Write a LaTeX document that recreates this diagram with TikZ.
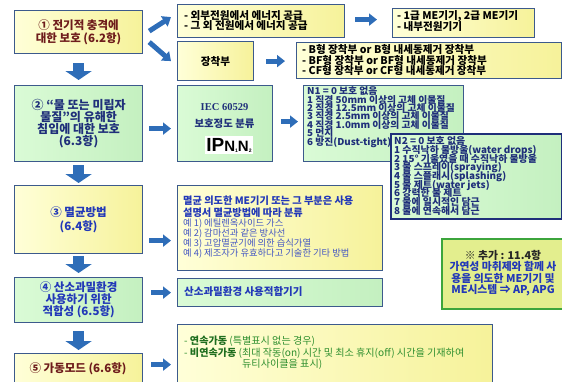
\documentclass[tikz,border=0pt]{standalone}
\usepackage{fontspec}
\setmainfont{Noto Sans CJK KR}
\newfontfamily\arialf{Liberation Sans}
\newfontfamily\timesf{Liberation Serif}
\usetikzlibrary{arrows.meta,calc}
\definecolor{bord}{HTML}{3C5A8C}
\definecolor{yla}{HTML}{FFFFD8}
\definecolor{ylb}{HTML}{F6F29A}
\definecolor{gra}{HTML}{DAFBD6}
\definecolor{grb}{HTML}{C4F0C0}
\definecolor{arr}{HTML}{2E6DB8}
\definecolor{redt}{HTML}{6E1C1C}
\definecolor{navy}{HTML}{1F2F7A}
\definecolor{bluet}{HTML}{2238B8}
\definecolor{greent}{HTML}{2F8F2F}
\definecolor{dgreen}{HTML}{1E6E1E}
\definecolor{addf}{HTML}{E3EE8E}
\definecolor{addb}{HTML}{3CA53C}
\begin{document}
\lineskiplimit=-100pt
\lineskip=0pt
\begin{tikzpicture}[x=1pt,y=-1pt,
  ybox/.style={draw=bord, line width=1.2pt, left color=yla, right color=ylb, inner sep=0pt, anchor=north west},
  gbox/.style={draw=bord, line width=1.2pt, left color=gra, right color=grb, inner sep=0pt, anchor=north west},
  txt/.style={inner sep=0pt, align=left},
  bigarr/.style={draw=arr, line width=11pt, -{Triangle[width=26pt,length=9pt]}},
  sarr/.style={draw=arr, line width=5pt, -{Triangle[width=12pt,length=8pt]}},
  lbig/.style={font=\fontsize{11.5}{13.5}\selectfont\bfseries, align=center, inner sep=0pt},
  mid/.style={font=\fontsize{10.6}{10.5}\selectfont\bfseries},
  nsm/.style={font=\fontsize{9.4}{8.4}\selectfont\bfseries\addfontfeature{FakeStretch=1.04}, text=navy}
]
\useasboundingbox (0,0) rectangle (562,381);
\fill[white] (0,0) rectangle (562,381);

% left column
\node[ybox, minimum width=128pt, minimum height=43pt] (b1) at (14,10) {};
\node[gbox, minimum width=128pt, minimum height=76pt] (b2) at (14,85) {};
\node[ybox, minimum width=128pt, minimum height=68pt] (b3) at (14,185) {};
\node[gbox, minimum width=128pt, minimum height=45pt] (b4) at (14,277) {};
\node[ybox, minimum width=128pt, minimum height=40pt] (b5) at (14,353) {};

\node[lbig, text=redt] (b1t) at (b1.center) {① 전기적 충격에\\대한 보호 (6.2항)};
\node[lbig, text=navy, font=\fontsize{12}{11.8}\selectfont\bfseries] (b2t) at (b2.center) {② “물 또는 미립자\\물질”의 유해한\\침입에 대한 보호\\(6.3항)};
\node[lbig, text=bluet] (b3t) at (b3.center) {③ 멸균방법\\(6.4항)};
\node[lbig, text=bluet, font=\fontsize{11.5}{12}\selectfont\bfseries] (b4t) at (b4.center) {④ 산소과밀환경\\사용하기 위한\\적합성 (6.5항)};
\node[lbig, text=redt, anchor=center] (b5t) at (78,369) {⑤ 가동모드 (6.6항)};

% top right boxes
\node[ybox, minimum width=167pt, minimum height=33pt] (ext) at (177,4) {};
\node[txt, mid, anchor=west] (extt) at (184,20.5) {- 외부전원에서 에너지 공급\\- 그 외 전원에서 에너지 공급};
\node[ybox, minimum width=142pt, minimum height=29pt] (cls) at (392,8) {};
\node[txt, mid, anchor=west] (clst) at (397,21) {- 1급 ME기기, 2급 ME기기\\- 내부전원기기};
\node[ybox, minimum width=76pt, minimum height=39pt] (app) at (177,41) {};
\node[mid, inner sep=0pt] (appt) at (app.center) {장착부};
\node[ybox, minimum width=265pt, minimum height=36pt] (typ) at (296,42) {};
\node[txt, mid, anchor=west] (typt) at (302,60) {- B형 장착부 or B형 내세동제거 장착부\\- BF형 장착부 or BF형 내세동제거 장착부\\- CF형 장착부 or CF형 내세동제거 장착부};

% IEC
\node[gbox, minimum width=95pt, minimum height=76pt] (iec) at (177,85) {};
\node[inner sep=0pt, text=navy, font=\timesf\fontsize{10.5}{12}\selectfont\bfseries] (iect1) at (224.5,107) {IEC 60529};
\node[inner sep=0pt, text=navy, font=\fontsize{10.4}{12}\selectfont\bfseries] (iect2) at (224.5,124) {보호정도 분류};
\node[fill=white, inner sep=1.5pt, font=\arialf\bfseries] (ip) at (229,145) {\fontsize{19}{19}\selectfont IP\fontsize{15}{15}\selectfont N\raisebox{-1pt}{\fontsize{5}{5}\selectfont 1}N\raisebox{-1pt}{\fontsize{5}{5}\selectfont 2}};

\node[gbox, minimum width=160pt, minimum height=76pt] (n1) at (303,85) {};
\node[txt, nsm, anchor=north west] (n1t) at (307,86.5) {N1 = 0 보호 없음\\1 직경 50mm 이상의 고체 이물질\\2 직경 12.5mm 이상의 고체 이물질\\3 직경 2.5mm 이상의 고체 이물질\\4 직경 1.0mm 이상의 고체 이물질\\5 먼지\\6 방진(Dust-tight)};
\node[draw=navy, line width=1.6pt, left color=gra, right color=grb, inner sep=0pt, anchor=north west, minimum width=171pt, minimum height=85pt] (n2) at (390,133) {};
\node[txt, text=navy, font=\fontsize{9.6}{8.7}\selectfont\bfseries\addfontfeature{FakeStretch=1.03}, anchor=west] (n2t) at (394,176) {N2 = 0 보호 없음\\1 수직낙하 물방울(water drops)\\2 15° 기울였을 때 수직낙하 물방울\\3 물 스프레이(spraying)\\4 물 스플래시(splashing)\\5 물 제트(water jets)\\6 강력한 물 제트\\7 물에 일시적인 담근\\8 물에 연속해서 담근};

% sterilisation
\node[ybox, minimum width=205pt, minimum height=85pt] (ster) at (177,185) {};
\node[txt, anchor=west, text=bluet, font=\fontsize{10.2}{12}\selectfont\bfseries] (stert) at (183,207) {멸균 의도한 ME기기 또는 그 부분은 사용\\설명서 멸균방법에 따라 분류};
\node[txt, anchor=west, text=bluet!85!white, font=\fontsize{9.3}{10}\selectfont] (stere) at (183,238.5) {예 1) 에틸렌옥사이드 가스\\예 2) 감마선과 같은 방사선\\예 3) 고압멸균기에 의한 습식가열\\예 4) 제조자가 유효하다고 기술한 기타 방법};

\node[gbox, minimum width=205pt, minimum height=28pt] (oxy) at (177,278) {};
\node[txt, anchor=west, text=bluet, font=\fontsize{10.5}{12}\selectfont\bfseries] (oxyt) at (184,292) {산소과밀환경 사용적합기기};

\node[ybox, minimum width=315pt, minimum height=70pt] (mode) at (177,324) {};
\node[txt, anchor=west, text=greent, font=\fontsize{10.1}{11.5}\selectfont] (modet) at (184,353) {- {\bfseries\color{dgreen}연속가동} (특별표시 없는 경우)\\- {\bfseries\color{dgreen}비연속가동} (최대 작동(on) 시간 및 최소 휴지(off) 시간을 기재하여\\\hspace*{58pt}듀티사이클을 표시)};

% addition
\node[draw=addb, line width=1.6pt, fill=addf, inner sep=0pt, anchor=north west, minimum width=121pt, minimum height=70pt] (add) at (441,238) {};
\node[align=center, inner sep=0pt, text=bluet, font=\fontsize{10.8}{11.4}\selectfont\bfseries] (addt) at (503,273) {{\color{black!85}※ 추가 : 11.4항}\\가연성 마취제와 함께 사\\용을 의도한 ME기기 및\\ME시스템 ⇒ AP, APG};

% big down arrows
\draw[bigarr, shorten <=9pt, shorten >=5pt] (b1.south) -- (b2.north);
\draw[bigarr, shorten <=3pt, shorten >=2pt] (b2.south) -- (b3.north);
\draw[bigarr, shorten <=2pt, shorten >=4pt] (b3.south) -- (b4.north);
\draw[bigarr, shorten <=8pt, shorten >=3pt] (b4.south) -- (b5.north);

% small arrows
\draw[sarr] ($(b1.east)+(6,-1)$) -- ($(ext.west)+(-6,-4)$);
\draw[sarr] ($(b1.east)+(6,10)$) -- ($(app.west)+(-6,0)$);
\draw[sarr] ($(ext.east)+(10,-1.5)$) -- ($(cls.west)+(-15,-3.5)$);
\draw[sarr, shorten <=12pt, shorten >=11pt] (app.east) -- (app.east -| typ.west);
\draw[sarr] ($(b2.east)+(6,5)$) -- ($(iec.west)+(-6,5)$);
\draw[sarr] ($(iec.east)+(8,-2)$) -- ($(n1.west)+(-5,-2)$);
\draw[sarr] ($(b3.east)+(6,21)$) -- ($(b3.east -| ster.west)+(-6,21)$);
\draw[sarr] ($(b4.east |- oxy.west)+(8,0)$) -- ($(oxy.west)+(-6,0)$);
\draw[sarr] ($(b5.east)+(8,-9)$) -- ($(b5.east -| mode.west)+(-6,-9)$);
\end{tikzpicture}
\end{document}
